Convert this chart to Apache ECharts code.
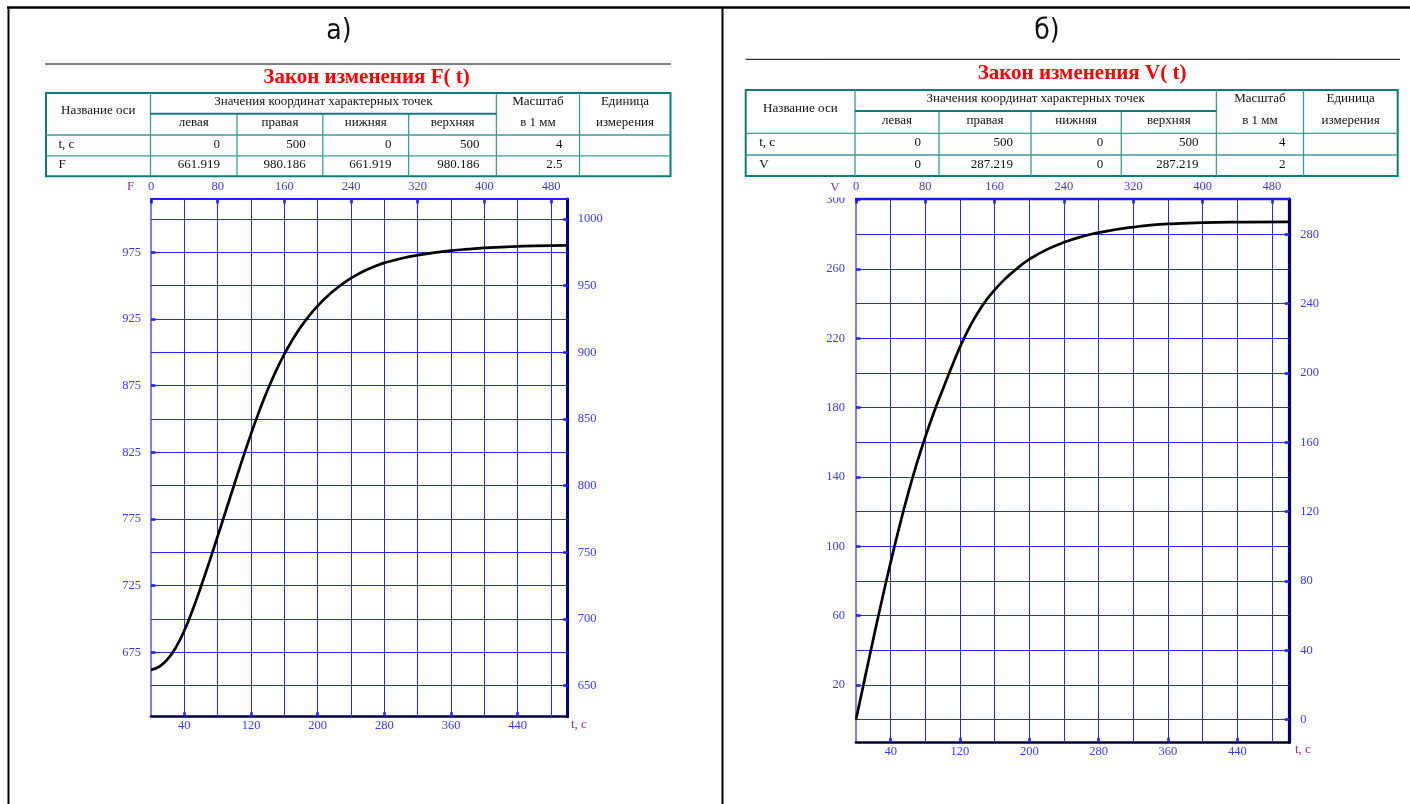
<!DOCTYPE html>
<html><head><meta charset="utf-8">
<script src="https://cdn.jsdelivr.net/npm/echarts@6/dist/echarts.min.js"></script>
<style>html,body{margin:0;padding:0;background:#fff}#c{width:1410px;height:804px}</style>
</head><body><div id="c"></div><script>
// ---------- DATA ----------
const panelLabels = ['а)', 'б)'];
const titles = ['Закон изменения F( t)', 'Закон изменения V( t)'];
const headName = 'Название оси';
const headGroup = 'Значения координат характерных точек';
const headSub = ['левая', 'правая', 'нижняя', 'верхняя'];
const headScale = ['Масштаб', 'в 1 мм'];
const headUnit = ['Единица', 'измерения'];
const rowsA = [['t, c', '0', '500', '0', '500', '4', ''], ['F', '661.919', '980.186', '661.919', '980.186', '2.5', '']];
const rowsB = [['t, c', '0', '500', '0', '500', '4', ''], ['V', '0', '287.219', '0', '287.219', '2', '']];

const tA = [0,10,20,30,40,50,60,70,80,90,100,110,120,130,140,150,160,170,180,190,200,210,220,230,240,250,260,270,280,300,320,340,360,380,400,430,460,500];
const FA = [661.9,664.3,669.9,678.9,691.4,706.9,724.4,742.9,762.1,781.6,801.1,820.3,838.8,856.1,871.9,886.1,898.7,909.7,919.3,927.6,934.8,941.1,946.6,951.4,955.6,959.2,962.3,964.9,967.1,970.4,972.9,974.8,976.3,977.4,978.3,979.2,979.8,980.19];

const tB = [0,10,20,30,40,50,60,70,80,90,100,110,120,130,140,150,160,170,180,190,200,220,240,260,280,300,320,340,360,400,450,500];
const VB = [0,23.4,46.6,69.2,90.8,111.2,130.3,147.6,163.2,177.4,190.4,203,215,225.5,234.3,241.8,248,253.3,257.9,262,265.6,271.2,275.4,278.6,281,282.8,284.2,285.3,286,286.8,287.1,287.22];

const xTop = [0,80,160,240,320,400,480];
const xBottom = [40,120,200,280,360,440];
const xGrid = [40,80,120,160,200,240,280,320,360,400,440,480];
const yLeftA = [675,725,775,825,875,925,975];
const yRightA = [650,700,750,800,850,900,950,1000];
const yGridA = [650,675,700,725,750,775,800,825,850,875,900,925,950,975,1000];
const yLeftB = [20,60,100,140,180,220,260,300];
const yRightB = [0,40,80,120,160,200,240,280];
const yGridB = [0,20,40,60,80,100,120,140,160,180,200,220,240,260,280];
const rangeA = {xmin:0, xmax:500, ymin:626.75, ymax:1015};
const rangeB = {xmin:0, xmax:500, ymin:-13.05, ymax:300.4};

// ---------- STYLE ----------
const serif = '"Liberation Serif","Times New Roman",serif';
const lblBlue = '#3a3aff';
const gridBlue = '#2626ff';
const tickBlue = '#1010ff';
const purple = '#9a2f8f';

function line(x1,y1,x2,y2,stroke,w){return {type:'line',silent:true,shape:{x1,y1,x2,y2},style:{stroke,lineWidth:w}};}
function txt(x,y,text,font,fill,align,va,z){return {type:'text',silent:true,x,y,z:z||10,style:{text,font,fill,align:align||'center',verticalAlign:va||'middle'}};}

function tableEls(cols, ry, rows, padL, padR){
  const els=[]; const L=cols[0],R=cols[7],T=ry[0],B=ry[4];
  const teal='#0b7d7d', tealL='#3b9b9b';
  const f='13px '+serif;
  els.push({type:'rect',silent:true,shape:{x:L,y:T,width:R-L,height:B-T},style:{fill:null,stroke:teal,lineWidth:2}});
  [1,5,6].forEach(i=>els.push(line(cols[i],T,cols[i],B,tealL,1.3)));
  [2,3,4].forEach(i=>els.push(line(cols[i],ry[1],cols[i],B,tealL,1.3)));
  els.push(line(cols[1],ry[1],cols[5],ry[1],teal,2));
  els.push(line(L,ry[2],R,ry[2],tealL,1.3));
  els.push(line(L,ry[3],R,ry[3],tealL,1.3));
  const r0=(T+ry[1])/2-1.5, r1=(ry[1]+ry[2])/2-1.5;
  els.push(txt((L+cols[1])/2,(T+ry[2])/2-3,headName,f,'#111'));
  els.push(txt((cols[1]+cols[5])/2,r0,headGroup,f,'#111'));
  headSub.forEach((s,i)=>els.push(txt((cols[i+1]+cols[i+2])/2,r1,s,f,'#111')));
  els.push(txt((cols[5]+cols[6])/2,r0,headScale[0],f,'#111'));
  els.push(txt((cols[5]+cols[6])/2,r1,headScale[1],f,'#111'));
  els.push(txt((cols[6]+cols[7])/2,r0,headUnit[0],f,'#111'));
  els.push(txt((cols[6]+cols[7])/2,r1,headUnit[1],f,'#111'));
  rows.forEach((row,r)=>{
    const yc=(ry[r+2]+ry[r+3])/2-1.2;
    els.push(txt(L+padL,yc,row[0],f,'#111','left'));
    for(let i=1;i<row.length;i++){ if(row[i]!=='') els.push(txt(cols[i+1]-padR,yc,row[i],f,'#111','right')); }
  });
  return els;
}

const colsA=[46,150.5,237,322.8,408.6,496.4,579.5,670.5], ryA=[93,113.7,135,155.8,176.2];
const colsB=[745.7,855,939,1031,1121.3,1216.4,1303.5,1397.7], ryB=[90,111,133.3,155,176];

const graphic=[
  line(7,7.5,1410,7.5,'#000',2.5),
  line(8.5,7.5,8.5,804,'#000',2),
  line(722.5,7.5,722.5,804,'#000',2),
  txt(339,32,panelLabels[0],'28px "Liberation Sans Narrow","DejaVu Sans Condensed",sans-serif','#111'),
  txt(1047,32,panelLabels[1],'28px "Liberation Sans Narrow","DejaVu Sans Condensed",sans-serif','#111'),
  line(45,64,671,64,'#000',1),
  line(745.5,59.3,1400,59.3,'#000',1),
  txt(366.5,77.5,titles[0],'bold 21px '+serif,'#ff0000'),
  txt(1082,74,titles[1],'bold 21px '+serif,'#ff0000'),
  ...tableEls(colsA,ryA,rowsA,12.5,17),
  ...tableEls(colsB,ryB,rowsB,13.5,18),
  {type:'rect',silent:true,z:100,shape:{x:816,y:184,width:32,height:13.5},style:{fill:'#fff'}},
  txt(130.5,186.5,'F','13px '+serif,purple,'center','middle',101),
  txt(835,187.5,'V','13px '+serif,purple,'center','middle',101),
  txt(571,724.5,'t, c','13px '+serif,purple,'left','middle',101),
  txt(1295,750,'t, c','13px '+serif,purple,'left','middle',101)
];

function fmt(v){return String(v);}
function xAx(gi, pos, vals, rng, lineColor, lw, margin){
  return {gridIndex:gi,type:'value',position:pos,min:rng.xmin,max:rng.xmax,z:3,
    axisLine:{show:true,onZero:false,lineStyle:{color:lineColor,width:lw}},
    axisTick:{show:true,customValues:vals,inside:true,length:4.5,lineStyle:{color:tickBlue,width:2.5}},
    axisLabel:{show:true,customValues:vals,margin,color:lblBlue,fontFamily:serif,fontSize:12.5,formatter:fmt},
    splitLine:{show:false}};
}
function yAx(gi, pos, vals, rng, lineColor, lw, margin){
  return {gridIndex:gi,type:'value',position:pos,min:rng.ymin,max:rng.ymax,z:3,
    axisLine:{show:true,onZero:false,lineStyle:{color:lineColor,width:lw}},
    axisTick:{show:true,customValues:vals,inside:true,length:4.5,lineStyle:{color:tickBlue,width:2.5}},
    axisLabel:{show:true,customValues:vals,margin,color:lblBlue,fontFamily:serif,fontSize:12.5,formatter:fmt},
    splitLine:{show:false}};
}
function gridSeries(xi, yi, rng, gx, gy){
  return {type:'line',xAxisIndex:xi,yAxisIndex:yi,data:[[rng.xmin,rng.ymin]],symbol:'none',silent:true,z:1,
    lineStyle:{opacity:0},
    markLine:{silent:true,animation:false,symbol:['none','none'],label:{show:false},emphasis:{disabled:true},
      lineStyle:{color:gridBlue,width:1,type:'solid',opacity:1},
      data:[...gx.map(v=>({xAxis:v})),...gy.map(v=>({yAxis:v}))]}};
}

const option={
  animation:false,
  backgroundColor:'#fff',
  graphic:{elements:graphic},
  grid:[
    {left:151,top:199,width:416.7,height:517.7,outerBoundsMode:'none',containLabel:false},
    {left:856,top:199,width:433.3,height:543.3,outerBoundsMode:'none',containLabel:false}
  ],
  xAxis:[
    xAx(0,'bottom',xBottom,rangeA,'#00004d',2.7,3),
    xAx(0,'top',xTop,rangeA,'#2020ff',2,6),
    xAx(1,'bottom',xBottom,rangeB,'#000033',2.7,3),
    xAx(1,'top',xTop,rangeB,'#1a1aff',2.3,6)
  ],
  yAxis:[
    yAx(0,'left',yLeftA,rangeA,'#5a5aff',1.6,10),
    yAx(0,'right',yRightA,rangeA,'#000080',3,10),
    yAx(1,'left',yLeftB,rangeB,'#8080e0',2,11),
    yAx(1,'right',yRightB,rangeB,'#000080',3.2,11)
  ],
  series:[
    gridSeries(0,0,rangeA,xGrid,yGridA),
    gridSeries(2,2,rangeB,xGrid,yGridB),
    {type:'line',xAxisIndex:0,yAxisIndex:0,data:tA.map((t,i)=>[t,FA[i]]),smooth:0.5,symbol:'none',showSymbol:false,z:5,
      lineStyle:{color:'#000',width:2.7}},
    {type:'line',xAxisIndex:2,yAxisIndex:2,data:tB.map((t,i)=>[t,VB[i]]),smooth:0.5,symbol:'none',showSymbol:false,z:5,
      lineStyle:{color:'#000',width:2.7}}
  ]
};
const chart=echarts.init(document.getElementById('c'),null,{renderer:'canvas'});
chart.setOption(option);
</script></body></html>
